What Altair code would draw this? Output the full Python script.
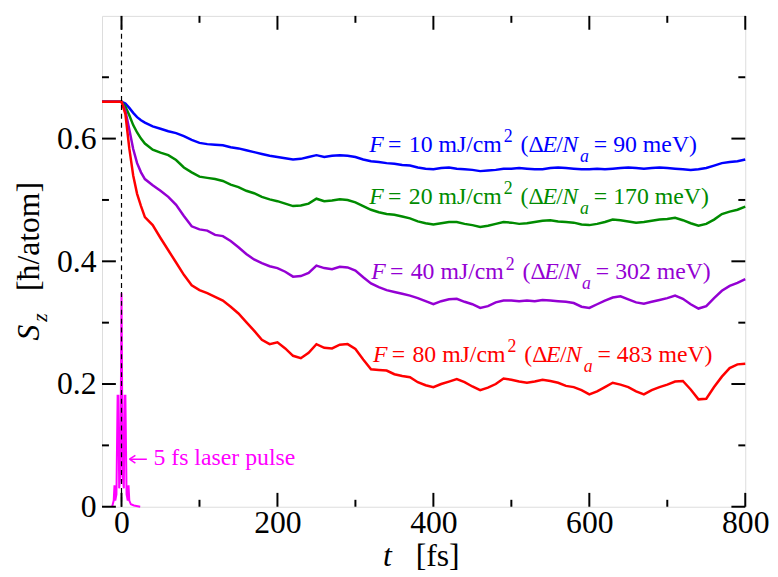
import altair as alt
import pandas as pd

# ---------------- data ----------------
t_fs = [-25, 0, 5, 10, 15, 20, 25, 30, 40, 50, 60, 70, 80, 90, 100, 110, 120, 130,
        140, 150, 160, 170, 180, 190, 200, 210, 220, 230, 240, 250, 260, 270, 280,
        290, 300, 310, 320, 330, 340, 350, 360, 370, 380, 390, 400, 410, 420, 430,
        440, 450, 460, 470, 480, 490, 500, 510, 520, 530, 540, 550, 560, 570, 580,
        590, 600, 610, 620, 630, 640, 650, 660, 670, 680, 690, 700, 710, 720, 730,
        740, 750, 760, 770, 780, 790, 800]

sz_10 = [0.660, 0.660, 0.657, 0.650, 0.642, 0.635, 0.630, 0.626, 0.620, 0.616, 0.612,
         0.609, 0.604, 0.598, 0.593, 0.591, 0.590, 0.589, 0.586, 0.584, 0.581, 0.578,
         0.575, 0.572, 0.570, 0.568, 0.566, 0.567, 0.570, 0.573, 0.570, 0.572, 0.573,
         0.572, 0.570, 0.566, 0.563, 0.562, 0.560, 0.559, 0.557, 0.556, 0.553, 0.551,
         0.550, 0.552, 0.553, 0.551, 0.550, 0.549, 0.547, 0.548, 0.549, 0.551, 0.551,
         0.552, 0.551, 0.550, 0.550, 0.552, 0.553, 0.552, 0.551, 0.550, 0.550, 0.551,
         0.550, 0.551, 0.552, 0.553, 0.552, 0.551, 0.552, 0.553, 0.552, 0.551, 0.550,
         0.549, 0.550, 0.552, 0.556, 0.560, 0.562, 0.563, 0.566]

sz_20 = [0.660, 0.660, 0.652, 0.638, 0.622, 0.610, 0.600, 0.592, 0.582, 0.577, 0.573,
         0.565, 0.553, 0.545, 0.538, 0.536, 0.534, 0.531, 0.525, 0.521, 0.515, 0.511,
         0.505, 0.501, 0.498, 0.494, 0.490, 0.491, 0.494, 0.502, 0.498, 0.499, 0.501,
         0.500, 0.496, 0.490, 0.484, 0.480, 0.477, 0.476, 0.473, 0.470, 0.465, 0.462,
         0.460, 0.462, 0.464, 0.464, 0.461, 0.459, 0.456, 0.458, 0.461, 0.464, 0.463,
         0.461, 0.462, 0.464, 0.466, 0.467, 0.465, 0.464, 0.463, 0.460, 0.459, 0.461,
         0.464, 0.468, 0.467, 0.465, 0.463, 0.464, 0.466, 0.468, 0.469, 0.471, 0.467,
         0.462, 0.458, 0.461, 0.468, 0.477, 0.481, 0.484, 0.489]

sz_40 = [0.660, 0.660, 0.645, 0.615, 0.583, 0.560, 0.545, 0.534, 0.524, 0.515, 0.505,
         0.492, 0.474, 0.457, 0.452, 0.450, 0.443, 0.441, 0.433, 0.423, 0.412, 0.403,
         0.397, 0.392, 0.389, 0.383, 0.375, 0.376, 0.381, 0.393, 0.389, 0.387, 0.391,
         0.390, 0.385, 0.374, 0.364, 0.358, 0.353, 0.350, 0.347, 0.344, 0.340, 0.335,
         0.330, 0.335, 0.338, 0.339, 0.334, 0.330, 0.324, 0.327, 0.333, 0.336, 0.336,
         0.335, 0.336, 0.335, 0.337, 0.336, 0.335, 0.334, 0.332, 0.326, 0.324, 0.330,
         0.336, 0.341, 0.343, 0.338, 0.333, 0.331, 0.334, 0.337, 0.340, 0.344, 0.339,
         0.330, 0.323, 0.327, 0.340, 0.352, 0.360, 0.365, 0.371]

sz_80 = [0.660, 0.660, 0.640, 0.584, 0.540, 0.510, 0.490, 0.472, 0.459, 0.438, 0.418,
         0.398, 0.378, 0.361, 0.353, 0.348, 0.342, 0.336, 0.326, 0.315, 0.301, 0.287,
         0.272, 0.265, 0.268, 0.258, 0.246, 0.242, 0.251, 0.265, 0.259, 0.258, 0.264,
         0.265, 0.257, 0.240, 0.224, 0.223, 0.222, 0.216, 0.213, 0.211, 0.203, 0.198,
         0.195, 0.200, 0.204, 0.208, 0.203, 0.196, 0.190, 0.194, 0.200, 0.209, 0.207,
         0.204, 0.202, 0.204, 0.207, 0.205, 0.202, 0.197, 0.195, 0.190, 0.183, 0.188,
         0.195, 0.202, 0.199, 0.195, 0.188, 0.183, 0.190, 0.195, 0.199, 0.204, 0.205,
         0.191, 0.175, 0.176, 0.195, 0.212, 0.226, 0.232, 0.233]

pulse_t = [-12, -10, -9, -8, -6.5, -5, -4, -3, -1.5, 0, 1.5, 3, 4, 5, 6.5, 8, 9,
           10, 12, 16, 24]
pulse_v = [0.0, 0.01, 0.035, 0.01, 0.02, 0.181, 0.181, 0.03, 0.05, 0.348, 0.05, 0.03,
           0.181, 0.181, 0.02, 0.01, 0.035, 0.01, 0.004, 0.002, 0.0]

series_names = ["10", "20", "40", "80"]
energies = ["90", "170", "302", "483"]
colors = ["#0000ff", "#008b00", "#9400d3", "#ff0000"]
label_t = [317.7, 317.7, 320.2, 322.4]
label_sz = [0.578, 0.493, 0.3705, 0.236]

x_major = [0, 200, 400, 600, 800]
x_minor = [100, 300, 500, 700]
y_major = [0, 0.2, 0.4, 0.6]
y_minor = [0.1, 0.3, 0.5, 0.7]

# ---------------- tables ----------------
rows = []
for name, vals in zip(series_names, [sz_10, sz_20, sz_40, sz_80]):
    for t, v in zip(t_fs, vals):
        rows.append({"series": name, "t": t, "sz": v})
curves = pd.DataFrame(rows)
pulse = pd.DataFrame({"t": pulse_t, "sz": pulse_v})
labels = pd.DataFrame({"series": series_names, "t": label_t, "sz": label_sz,
                       "fl": [f"{s} mJ/cm" for s in series_names],
                       "en": [f"= {e} meV)" for e in energies]})

W, H = 650, 496
FONT = "Liberation Serif, Times New Roman, serif"
xs = alt.Scale(domain=[-25, 800], nice=False, zero=False)
ys = alt.Scale(domain=[0, 0.8], nice=False, zero=False)
cs = alt.Scale(domain=series_names, range=colors)

x_axis = alt.Axis(values=x_major, ticks=False, domain=False, grid=False, title=None,
                  labelFont=FONT, labelFontSize=32, labelColor="black",
                  labelPadding=1, labelFlush=False, labelOverlap=False)
y_axis = alt.Axis(values=y_major, ticks=False, domain=False, grid=False, title=None,
                  labelFont=FONT, labelFontSize=32, labelColor="black",
                  labelPadding=6, labelOverlap=False,
                  labelExpr="datum.value == 0 ? '0' : format(datum.value, '.1f')")


def X(field="t"):
    return alt.X(f"{field}:Q", scale=xs, axis=x_axis)


def Y(field="sz"):
    return alt.Y(f"{field}:Q", scale=ys, axis=y_axis)


col = alt.Color("series:N", scale=cs, legend=None)

lines = alt.Chart(curves).mark_line(strokeWidth=2.5).encode(
    x=X(), y=Y(), color=col, detail="series:N")

pulse_line = alt.Chart(pulse).mark_line(color="#ff00ff", strokeWidth=2).encode(
    x=X(), y=Y())

zero_df = pd.DataFrame({"t": [0]})
dash = alt.Chart(zero_df).mark_rule(color="black", strokeWidth=1.2,
                                    strokeDash=[5, 4]).encode(
    x=X(), y=alt.value(0), y2=alt.value(H))

# annotations built from styled segments
segs = [
    ("F", 0, 0, 24, "italic", None),
    ("=", 19, 0, 24, "normal", None),
    ("fl", 40, 0, 24, "normal", "field"),
    ("2", 136, -10, 18, "normal", None),
    ("(Δ", 153, 0, 24, "normal", None),
    ("E", 175, 0, 24, "italic", None),
    ("/", 189, 0, 24, "normal", None),
    ("N", 195, 0, 24, "italic", None),
    ("a", 213, 10, 18, "italic", None),
    ("en", 227, 0, 24, "normal", "field"),
]
seg_layers = []
for txt, dx, dy, fs, style, kind in segs:
    base = alt.Chart(labels).mark_text(align="left", baseline="alphabetic", dx=dx, dy=dy,
                                       font=FONT, fontSize=fs, fontStyle=style)
    enc = dict(x=X(), y=Y(), color=col)
    enc["text"] = alt.Text(f"{txt}:N") if kind == "field" else alt.value(txt)
    seg_layers.append(base.encode(**enc))

# pulse annotation
pulse_note = pd.DataFrame({"t": [41.0], "sz": [0.068], "txt": ["5 fs laser pulse"]})
note = alt.Chart(pulse_note).mark_text(align="left", baseline="alphabetic", font=FONT,
                                       fontSize=24, color="#ff00ff").encode(
    x=X(), y=Y(), text="txt:N")
arrow_df = pd.DataFrame({"t": [10.2], "t2": [32.5], "sz": [0.0774]})
arrow_shaft = alt.Chart(arrow_df).mark_rule(color="#ff00ff", strokeWidth=1.5).encode(
    x=X(), x2="t2:Q", y=Y())
arrow_head = alt.Chart(arrow_df).mark_point(
    shape="M0,0L1.2,-0.8M0,0L1.2,0.8", size=100, filled=False, color="#ff00ff",
    strokeWidth=1.5, opacity=1).encode(x=X(), y=Y())


# inward ticks on all four sides
def xticks(vals, length):
    df = pd.DataFrame({"t": vals})
    b = alt.Chart(df).mark_rule(color="black", strokeWidth=2)
    bottom = b.encode(x=X(), y=alt.value(H), y2=alt.value(H - length))
    top = b.encode(x=X(), y=alt.value(0), y2=alt.value(length))
    return [bottom, top]


def yticks(vals, length):
    df = pd.DataFrame({"sz": vals})
    b = alt.Chart(df).mark_rule(color="black", strokeWidth=2)
    left = b.encode(y=Y(), x=alt.value(0), x2=alt.value(length))
    right = b.encode(y=Y(), x=alt.value(W), x2=alt.value(W - length))
    return [left, right]


tick_layers = (xticks(x_major, 14) + xticks(x_minor, 7)
               + yticks(y_major, 14) + yticks(y_minor, 7))

# axis titles with mixed styles
title_df = pd.DataFrame({"k": [0]})


def title_seg(txt, x, y, fs, style, angle=0, dx=0, dy=0):
    return alt.Chart(title_df).mark_text(align="left", baseline="alphabetic", font=FONT,
                                         fontSize=fs, fontStyle=style, angle=angle,
                                         dx=dx, dy=dy, color="black").encode(
        x=alt.value(x), y=alt.value(y), text=alt.value(txt))


titles = [
    title_seg("t", 284, 556, 32, "italic"),
    title_seg("[fs]", 317, 556, 32, "normal"),
    title_seg("S", -64, 328, 32, "italic", angle=270),
    title_seg("z", -64, 328, 22, "italic", angle=270, dx=19, dy=8),
    title_seg("[ħ/atom]", -64, 328, 32, "normal", angle=270, dx=50),
]

chart = alt.layer(
    pulse_line, lines, dash, *seg_layers, note, arrow_shaft, arrow_head,
    *tick_layers, *titles
).properties(
    width=W, height=H,
    autosize=alt.AutoSizeParams(type="none"),
    padding={"left": 95, "top": 5, "right": 25, "bottom": 64},
).configure_view(stroke="black", strokeWidth=2).configure(
    background="white", font=FONT
).configure_axis(labelFont=FONT).configure_text(font=FONT)

chart.save("out.html", embed_options={"renderer": "svg", "actions": False})
